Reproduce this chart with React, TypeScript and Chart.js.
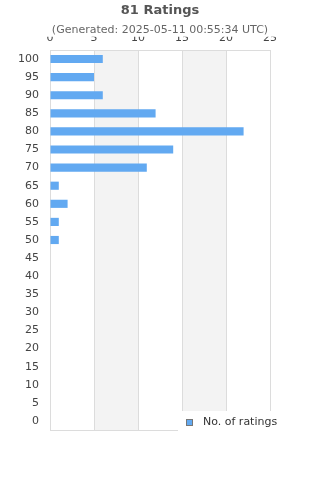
import React, { useEffect, useRef } from "react";
import { Chart, registerables } from "chart.js";

Chart.register(...registerables);

const categories = ["100", "95", "90", "85", "80", "75", "70", "65", "60", "55", "50", "45", "40", "35", "30", "25", "20", "15", "10", "5", "0"];
const ratings = [6, 5, 6, 12, 22, 14, 11, 1, 2, 1, 1, 0, 0, 0, 0, 0, 0, 0, 0, 0, 0];
const xMin = 0;
const xMax = 25;
const xStep = 5;
const bands = [[5, 10], [15, 20]];
const titleText = "81 Ratings";
const subtitleText = "(Generated: 2025-05-11 00:55:34 UTC)";
const seriesLabel = "No. of ratings";

const FONT = "'DejaVu Sans', sans-serif";
const BAR = "#62a9f1";
const GRID = "#dcdcdc";

const bandsPlugin = {
  id: "bands",
  beforeDraw(chart: any) {
    const { ctx, chartArea, scales } = chart;
    if (!chartArea || !scales.x) return;
    ctx.save();
    ctx.fillStyle = "#f3f3f3";
    for (const [a, b] of bands) {
      const x0 = scales.x.getPixelForValue(a);
      const x1 = scales.x.getPixelForValue(b);
      ctx.fillRect(x0, chartArea.top, x1 - x0, chartArea.bottom - chartArea.top);
    }
    ctx.restore();
  },
};

const legendPlugin = {
  id: "customLegend",
  afterDraw(chart: any) {
    const { ctx, chartArea } = chart;
    if (!chartArea) return;
    const label = chart.data.datasets[0].label;
    const rx = chartArea.right - 92;
    const ry = chartArea.bottom - 19;
    ctx.save();
    ctx.fillStyle = "#ffffff";
    ctx.fillRect(rx, ry, 142, 24);
    const cy = chartArea.bottom - 7.5;
    ctx.fillStyle = BAR;
    ctx.fillRect(rx + 8, cy - 3.5, 7, 7);
    ctx.strokeStyle = "#777";
    ctx.lineWidth = 1;
    ctx.strokeRect(rx + 8.5, cy - 3, 6, 6);
    ctx.fillStyle = "#333";
    ctx.font = `11px ${FONT}`;
    ctx.textBaseline = "middle";
    ctx.textAlign = "left";
    ctx.fillText(label, rx + 25, cy);
    ctx.restore();
  },
};

export default function App() {
  const ref = useRef<HTMLCanvasElement | null>(null);
  useEffect(() => {
    if (!ref.current) return;
    Chart.defaults.font.family = FONT;
    const chart = new Chart(ref.current, {
      type: "bar",
      data: {
        labels: categories,
        datasets: [
          {
            label: seriesLabel,
            data: ratings,
            backgroundColor: BAR,
            borderWidth: 0,
            categoryPercentage: 1,
            barPercentage: 0.45,
          },
        ],
      },
      options: {
        indexAxis: "y",
        responsive: false,
        animation: false,
        layout: { padding: { left: 0, right: 0, top: 0, bottom: 50 } },
        plugins: {
          legend: { display: false },
          tooltip: { enabled: false },
          title: {
            display: true,
            text: titleText,
            color: "#555",
            font: { size: 13, weight: "bold", family: FONT, lineHeight: 1.2 },
            padding: { top: 3, bottom: 0 },
          },
          subtitle: {
            display: true,
            text: subtitleText,
            color: "#666",
            font: { size: 11, family: FONT, lineHeight: 1.2 },
            padding: { top: 5, bottom: 0 },
          },
        },
        scales: {
          x: {
            position: "top",
            min: xMin,
            max: xMax,
            afterFit: (scale: any) => {
              scale.height = 13.2;
            },
            ticks: { stepSize: xStep, color: "#444", font: { size: 11, family: FONT }, padding: 5 },
            grid: { color: GRID, drawTicks: false },
            border: { display: true, color: GRID },
          },
          y: {
            afterFit: (scale: any) => {
              scale.width = 50;
            },
            ticks: { color: "#444", font: { size: 11, family: FONT }, padding: 11, autoSkip: false },
            grid: {
              drawTicks: false,
              color: (ctx: any) => (ctx.tick ? "rgba(0,0,0,0)" : GRID),
            },
            border: { display: false },
          },
          yRight: {
            type: "linear",
            axis: "y",
            position: "right",
            display: true,
            ticks: { display: false },
            grid: { display: false, drawTicks: false },
            border: { display: false },
            afterFit: (scale: any) => {
              scale.width = 50;
            },
          },
        },
      },
      plugins: [bandsPlugin, legendPlugin],
    } as any);
    return () => chart.destroy();
  }, []);
  return (
    <div style={{ position: "fixed", left: 0, top: 0, width: 320, height: 480, background: "#fff" }}>
      <canvas ref={ref} width={320} height={480} style={{ width: 320, height: 480 }} />
    </div>
  );
}
